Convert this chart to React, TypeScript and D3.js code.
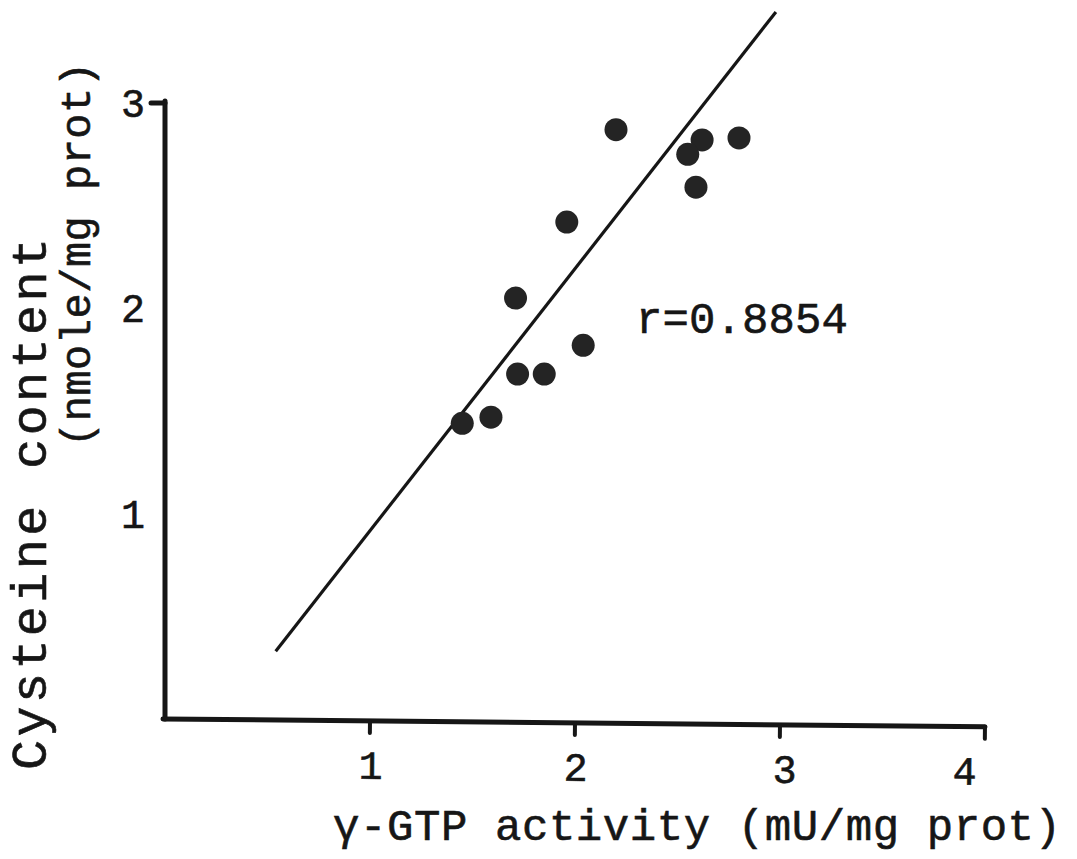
import React from "react";
import * as d3 from "d3";

// ---- data ----
const gtpActivity = [2.2, 2.62, 2.55, 2.8, 2.59, 1.96, 1.71, 2.04, 1.72, 1.85, 1.45, 1.59];
const cysteineContent = [2.87, 2.82, 2.75, 2.83, 2.59, 2.42, 2.05, 1.82, 1.68, 1.68, 1.44, 1.47];
const xTickValues = [1, 2, 3, 4];
const yTickValues = [1, 2, 3];
const fitSlope = 1.276;
const fitIntercept = -0.359;
const fitXRange = [0.54, 2.98];
const rLabel = "r=0.8854";
const xTitle = "\u03b3-GTP activity (mU/mg prot)";
const yTitle1 = "Cysteine content";
const yTitle2 = "(nmole/mg prot)";

const W = 1077;
const H = 859;
const FONT = "'Liberation Mono', 'Courier New', monospace";
const INK = "#161616";

export default function App() {
  const x = d3.scaleLinear().domain([0, 4]).range([165, 985]);
  const y = d3.scaleLinear().domain([0, 3]).range([719, 103]);

  const fitLine = d3
    .line<number>()
    .x((d) => x(d))
    .y((d) => y(fitSlope * d + fitIntercept));

  const x0 = x(0);
  const y0 = y(0);
  const textStyle = { stroke: INK, strokeWidth: 0.6 };

  return (
    <svg
      width={W}
      height={H}
      style={{ position: "absolute", left: 0, top: 0, background: "#fff" }}
    >
      <rect x={0} y={0} width={W} height={H} fill="#fff" />

      {/* fitted regression line */}
      <path d={fitLine(fitXRange) || ""} fill="none" stroke={INK} strokeWidth={3.2} />

      {/* data points */}
      {gtpActivity.map((g, i) => (
        <circle key={i} cx={x(g)} cy={y(cysteineContent[i])} r={11.5} fill="#242424" />
      ))}

      {/* y axis */}
      <line x1={x0} x2={x0} y1={y0} y2={y(3) - 2} stroke={INK} strokeWidth={5} strokeLinecap="round" />
      <line x1={x0} x2={x0 - 14} y1={y(3)} y2={y(3)} stroke={INK} strokeWidth={5} strokeLinecap="round" />
      {yTickValues.map((v) => (
        <text
          key={v}
          x={x0 - 20}
          y={y(v)}
          dy="0.35em"
          textAnchor="end"
          fontFamily={FONT}
          fontSize={40}
          fill={INK}
          style={textStyle}
        >
          {v}
        </text>
      ))}

      {/* x axis (slightly tilted as in the scan) */}
      <g transform={`rotate(0.55, ${x0}, ${y0})`}>
        <line x1={x0 - 2} x2={x(4)} y1={y0} y2={y0} stroke={INK} strokeWidth={5} strokeLinecap="round" />
        {xTickValues.map((v) => (
          <g key={v}>
            <line x1={x(v)} x2={x(v)} y1={y0} y2={y0 + 12} stroke={INK} strokeWidth={4} strokeLinecap="round" />
            <text
              x={x(v) + (v === 4 ? -20 : v === 3 ? 5 : 1)}
              y={y0 + 58}
              textAnchor="middle"
              fontFamily={FONT}
              fontSize={40}
              fill={INK}
              style={textStyle}
            >
              {v}
            </text>
          </g>
        ))}
      </g>

      {/* correlation label */}
      <text
        x={636}
        y={333}
        fontFamily={FONT}
        fontSize={44}
        fill={INK}
        textLength={212}
        lengthAdjust="spacing"
        style={textStyle}
      >
        {rLabel}
      </text>

      {/* axis titles */}
      <text
        x={333}
        y={840}
        fontFamily={FONT}
        fontSize={44}
        fill={INK}
        textLength={728}
        lengthAdjust="spacing"
        style={textStyle}
      >
        {xTitle}
      </text>
      <text
        transform="translate(46, 770) rotate(-90)"
        fontFamily={FONT}
        fontSize={50}
        fill={INK}
        textLength={532}
        lengthAdjust="spacing"
        style={textStyle}
      >
        {yTitle1}
      </text>
      <text
        transform="translate(90, 447) rotate(-90)"
        fontFamily={FONT}
        fontSize={42}
        fill={INK}
        textLength={385}
        lengthAdjust="spacing"
        style={textStyle}
      >
        {yTitle2}
      </text>
    </svg>
  );
}
